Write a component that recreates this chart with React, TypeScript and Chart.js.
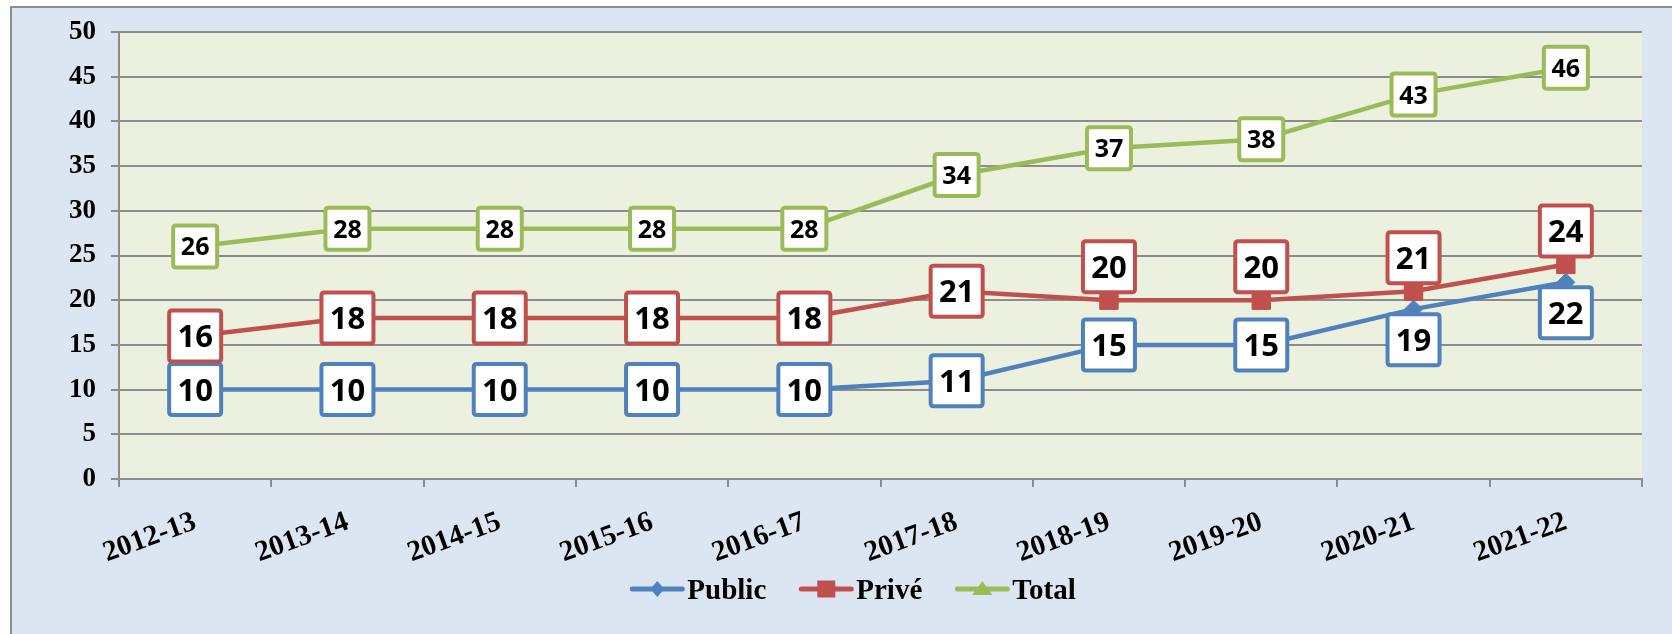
import React, { useEffect, useRef } from 'react';
import { Chart, registerables } from 'chart.js';

Chart.register(...registerables);

// ---- Data ----
const categories = ['2012-13', '2013-14', '2014-15', '2015-16', '2016-17', '2017-18', '2018-19', '2019-20', '2020-21', '2021-22'];
const publicValues = [10, 10, 10, 10, 10, 11, 15, 15, 19, 22];
const priveValues = [16, 18, 18, 18, 18, 21, 20, 20, 21, 24];
const totalValues = [26, 28, 28, 28, 28, 34, 37, 38, 43, 46];
const seriesNames = ['Public', 'Privé', 'Total'];
const yMin = 0;
const yMax = 50;
const yStep = 5;

// ---- Styles ----
const BLUE = '#4F81BD';
const RED = '#C0504D';
const GREEN = '#9BBB59';
const GRID = '#8C8C8C';
const OUTER_BG = '#DCE6F2';
const PLOT_BG = '#EBF1DE';
const SERIF = '"Liberation Serif", "Times New Roman", serif';
const SANS = '"Open Sans", "Liberation Sans", sans-serif';

type Place = 'center' | 'above' | 'below';
const labelStyles = [
  { color: BLUE, w: 56, h: 55, font: 31, gap: 3, place: (i: number): Place => (i >= 8 ? 'below' : 'center') },
  { color: RED, w: 56, h: 55, font: 31, gap: 6, place: (i: number): Place => (i >= 6 ? 'above' : 'center') },
  { color: GREEN, w: 48, h: 46, font: 25, gap: 0, place: (_i: number): Place => 'center' },
];

function roundRect(ctx: CanvasRenderingContext2D, x: number, y: number, w: number, h: number, r: number) {
  ctx.beginPath();
  ctx.moveTo(x + r, y);
  ctx.lineTo(x + w - r, y);
  ctx.quadraticCurveTo(x + w, y, x + w, y + r);
  ctx.lineTo(x + w, y + h - r);
  ctx.quadraticCurveTo(x + w, y + h, x + w - r, y + h);
  ctx.lineTo(x + r, y + h);
  ctx.quadraticCurveTo(x, y + h, x, y + h - r);
  ctx.lineTo(x, y + r);
  ctx.quadraticCurveTo(x, y, x + r, y);
  ctx.closePath();
}

const bgPlugin = {
  id: 'bgPlugin',
  beforeDraw(chart: any) {
    const { ctx, width, height, chartArea } = chart;
    ctx.save();
    ctx.fillStyle = '#FFFFFF';
    ctx.fillRect(0, 0, width, height);
    ctx.fillStyle = OUTER_BG;
    ctx.fillRect(10, 6, width - 10, height - 6);
    ctx.strokeStyle = '#8E8E8E';
    ctx.lineWidth = 2;
    ctx.beginPath();
    ctx.moveTo(11, height);
    ctx.lineTo(11, 7);
    ctx.lineTo(width, 7);
    ctx.stroke();
    ctx.fillStyle = PLOT_BG;
    ctx.fillRect(chartArea.left, chartArea.top, chartArea.right - chartArea.left, chartArea.bottom - chartArea.top);
    ctx.restore();
  },
};

const boxLabelPlugin = {
  id: 'boxLabelPlugin',
  afterDatasetsDraw(chart: any) {
    const ctx: CanvasRenderingContext2D = chart.ctx;
    ctx.save();
    chart.data.datasets.forEach((ds: any, di: number) => {
      const st = labelStyles[di];
      const meta = chart.getDatasetMeta(di);
      meta.data.forEach((pt: any, i: number) => {
        const { x, y } = pt.getProps(['x', 'y'], true);
        const place = st.place(i);
        let cy = y;
        if (place === 'above') cy = y - st.gap - st.h / 2;
        if (place === 'below') cy = y + st.gap + st.h / 2;
        const bx = x - st.w / 2;
        const by = cy - st.h / 2;
        roundRect(ctx, bx + 2, by + 2, st.w - 4, st.h - 4, 3);
        ctx.fillStyle = '#FFFFFF';
        ctx.fill();
        ctx.lineWidth = 4;
        ctx.strokeStyle = st.color;
        ctx.stroke();
        ctx.fillStyle = '#000000';
        ctx.font = `bold ${st.font}px ${SANS}`;
        ctx.textAlign = 'center';
        ctx.textBaseline = 'alphabetic';
        ctx.fillText(String(ds.data[i]), x, cy + st.font * 0.357);
      });
    });
    ctx.restore();
  },
};

function drawMarker(ctx: CanvasRenderingContext2D, kind: number, x: number, y: number, color: string) {
  ctx.fillStyle = color;
  ctx.beginPath();
  if (kind === 0) {
    ctx.moveTo(x, y - 8);
    ctx.lineTo(x + 7, y);
    ctx.lineTo(x, y + 8);
    ctx.lineTo(x - 7, y);
  } else if (kind === 1) {
    ctx.rect(x - 9, y - 8.5, 18, 17);
  } else {
    ctx.moveTo(x, y - 8);
    ctx.lineTo(x + 10, y + 6);
    ctx.lineTo(x - 10, y + 6);
  }
  ctx.closePath();
  ctx.fill();
}

const legendPlugin = {
  id: 'customLegend',
  afterDraw(chart: any) {
    const ctx: CanvasRenderingContext2D = chart.ctx;
    const colors = [BLUE, RED, GREEN];
    const symW = 54;
    const gap = 3;
    const spacing = 33;
    ctx.save();
    ctx.font = `bold 29px ${SERIF}`;
    const widths = seriesNames.map((n) => ctx.measureText(n).width);
    const total = widths.reduce((a, b) => a + b, 0) + seriesNames.length * (symW + gap) + spacing * (seriesNames.length - 1);
    let x = 853 - total / 2;
    const lineY = 589;
    seriesNames.forEach((name, i) => {
      ctx.strokeStyle = colors[i];
      ctx.lineWidth = 5;
      ctx.lineCap = 'round';
      ctx.beginPath();
      ctx.moveTo(x + 2, lineY);
      ctx.lineTo(x + symW - 2, lineY);
      ctx.stroke();
      drawMarker(ctx, i, x + symW / 2, lineY, colors[i]);
      ctx.fillStyle = '#000000';
      ctx.textAlign = 'left';
      ctx.textBaseline = 'alphabetic';
      ctx.fillText(name, x + symW + gap, 599);
      x += symW + gap + widths[i] + spacing;
    });
    ctx.restore();
  },
};

export default function App() {
  const ref = useRef<HTMLCanvasElement>(null);
  useEffect(() => {
    const canvas = ref.current;
    if (!canvas) return;
    const mk = (label: string, data: number[], color: string, pointStyle: any, radius: number) => ({
      label,
      data,
      borderColor: color,
      backgroundColor: color,
      pointBackgroundColor: color,
      pointBorderColor: color,
      pointBorderWidth: 1,
      pointStyle,
      pointRadius: radius,
      borderWidth: 4.5,
      tension: 0,
      fill: false,
    });
    const chart = new Chart(canvas, {
      type: 'line',
      data: {
        labels: categories,
        datasets: [
          mk(seriesNames[0], publicValues, BLUE, 'rectRot', 9),
          mk(seriesNames[1], priveValues, RED, 'rect', 13),
          mk(seriesNames[2], totalValues, GREEN, 'triangle', 9),
        ],
      },
      options: {
        responsive: false,
        animation: false,
        devicePixelRatio: 1,
        layout: { padding: { left: 10, right: 30, top: 32, bottom: 0 } },
        plugins: {
          legend: { display: false },
          tooltip: { enabled: false },
        },
        scales: {
          x: {
            type: 'category',
            offset: true,
            grid: {
              display: true,
              offset: true,
              drawOnChartArea: false,
              drawTicks: true,
              tickLength: 8,
              color: GRID,
              lineWidth: 2,
            },
            border: { display: true, color: GRID, width: 2 },
            ticks: {
              autoSkip: false,
              minRotation: 20,
              maxRotation: 20,
              padding: 18,
              color: '#000000',
              font: { family: SERIF, size: 29, weight: 'bold' },
            },
            afterFit: (s: any) => {
              s.height = 155;
            },
          },
          y: {
            min: yMin,
            max: yMax,
            grid: {
              display: true,
              drawTicks: true,
              tickLength: 8,
              color: GRID,
              lineWidth: 2,
            },
            border: { display: true, color: GRID, width: 2 },
            ticks: {
              stepSize: yStep,
              padding: 15,
              color: '#000000',
              font: { family: SERIF, size: 27, weight: 'bold' },
            },
            afterFit: (s: any) => {
              s.width = 109;
            },
          },
        },
      },
      plugins: [bgPlugin, boxLabelPlugin, legendPlugin],
    } as any);
    return () => chart.destroy();
  }, []);
  return (
    <div style={{ position: 'absolute', left: 0, top: 0, width: 1672, height: 634 }}>
      <canvas ref={ref} width={1672} height={634} style={{ display: 'block', width: 1672, height: 634 }} />
    </div>
  );
}
